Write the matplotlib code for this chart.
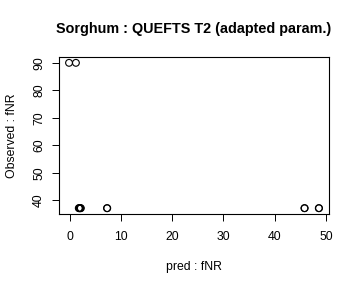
import matplotlib
matplotlib.use("Agg")
import matplotlib.pyplot as plt

# values
pred = [-0.1, 1.24, 1.8, 1.9, 2.0, 2.1, 2.2, 7.3, 7.35, 45.8, 45.85, 48.6, 48.65]
observed = [90.0, 90.0, 37.2, 37.2, 37.2, 37.2, 37.2, 37.2, 37.2, 37.2, 37.2, 37.2, 37.2]
xticks = [0, 10, 20, 30, 40, 50]
yticks = [40, 50, 60, 70, 80, 90]

plt.rcParams['font.family'] = ['Liberation Sans', 'DejaVu Sans']

fig = plt.figure(figsize=(3.6, 2.88), dpi=100)
ax = fig.add_axes([0.164, 0.257, 0.75, 0.545])

ax.scatter(pred, observed, s=24, facecolors='none', edgecolors='black', linewidths=0.8)

# R style 4% padding
xr = max(pred) - min(pred)
yr = max(observed) - min(observed)
ax.set_xlim(min(pred) - 0.04 * xr, max(pred) + 0.04 * xr)
ax.set_ylim(min(observed) - 0.04 * yr, max(observed) + 0.04 * yr)

ax.set_xticks(xticks)
ax.set_yticks(yticks)
ax.set_yticklabels([str(v) for v in yticks], rotation=90, va='center')
ax.tick_params(labelsize=8.8, length=5, width=0.7)
ax.tick_params(axis='x', pad=7)
ax.tick_params(axis='y', pad=5)
for s in ax.spines.values():
    s.set_linewidth(0.8)

ax.set_title("Sorghum : QUEFTS T2 (adapted param.)", fontsize=10.4, fontweight='bold', pad=17)
ax.set_xlabel("pred : fNR", fontsize=8.8, labelpad=13)
ax.set_ylabel("Observed : fNR", fontsize=8.8, labelpad=11)

fig.savefig("out.png", dpi=100)
